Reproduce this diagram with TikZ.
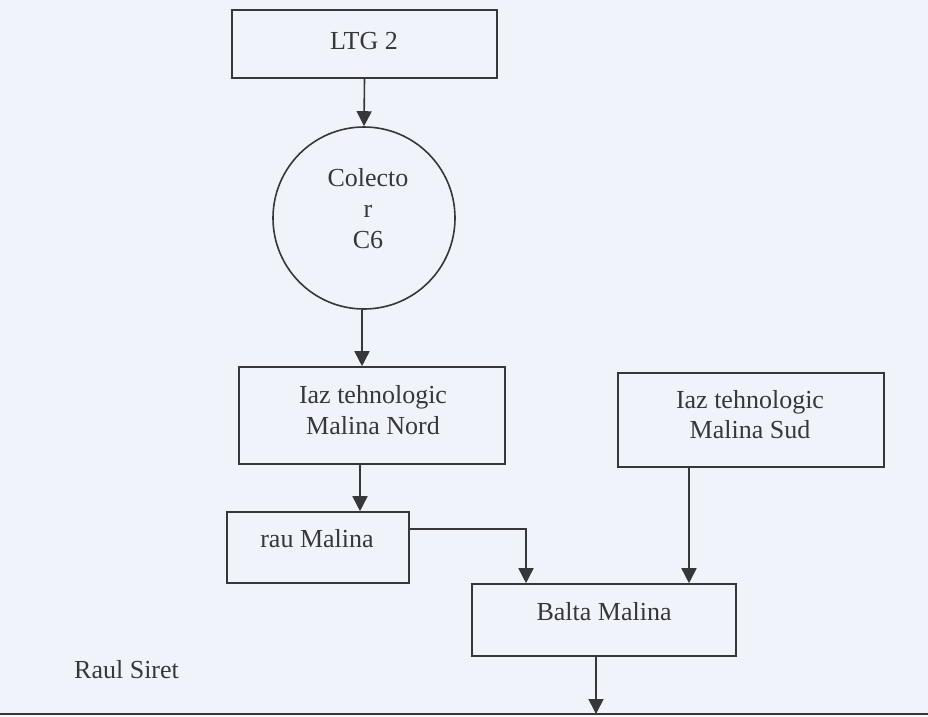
\documentclass[tikz,border=0pt]{standalone}
\usepackage{fontspec}
\setmainfont{Liberation Serif}
\usetikzlibrary{arrows.meta}
\definecolor{bg}{RGB}{240,244,250}
\definecolor{ink}{RGB}{55,55,58}
\begin{document}
\begin{tikzpicture}[x=1pt,y=-1pt,
  box/.style={draw=ink,line width=1.6pt,rectangle,inner sep=0pt},
  ring/.style={draw=ink,line width=1.6pt,circle,inner sep=0pt},
  txt/.style={text=ink,font=\fontsize{26}{30}\selectfont,anchor=base,inner sep=0pt},
  arr/.style={draw=ink,line width=1.6pt,-{Triangle[width=15pt,length=15pt]}},
  ln/.style={draw=ink,line width=1.6pt}]
\fill[bg] (0,0) rectangle (928,716);
\useasboundingbox (0,0) rectangle (928,716);

% boxes
\node[box,minimum width=265pt,minimum height=68pt] (ltg) at (364.5,44) {};
\node[ring,minimum size=182pt] (col) at (364,218) {};
\node[box,minimum width=266pt,minimum height=97pt] (nord) at (372,415.5) {};
\node[box,minimum width=266pt,minimum height=94pt] (sud) at (751,420) {};
\node[box,minimum width=182pt,minimum height=71pt] (rau) at (318,547.5) {};
\node[box,minimum width=264pt,minimum height=72pt] (balta) at (604,620) {};

% texts
\node[txt] (ltgT) at (364,49) {LTG 2};
\node[txt] (colT1) at (368,186) {Colecto};
\node[txt] (colT2) at (368,217) {r};
\node[txt] (colT3) at (368,248) {C6};
\node[txt] (nordT1) at (373,403) {Iaz tehnologic};
\node[txt] (nordT2) at (373,434) {Malina Nord};
\node[txt] (sudT1) at (750,408) {Iaz tehnologic};
\node[txt] (sudT2) at (750,438) {Malina Sud};
\node[txt] (rauT) at (317,547) {rau Malina};
\node[txt] (baltaT) at (604,620) {Balta Malina};
\node[txt,anchor=base west] (siret) at (74,678) {Raul Siret};

% river line
\coordinate (sL) at (0,714);
\coordinate (sR) at (928,714);
\coordinate (sB) at (596,714);
\draw[ln] (sL) -- (sR);

% connectors
\draw[arr] (ltg.south) -- (col.north);
\draw[arr] ([xshift=-2pt]col.south) -- ([xshift=-2pt]col.south |- nord.north);
\draw[arr] ([xshift=-12pt]nord.south) -- ([xshift=-12pt]nord.south |- rau.north);
\draw[arr] ([yshift=18.5pt]rau.east) -| ([xshift=-78pt]balta.north);
\draw[arr] ([xshift=-62pt]sud.south) -- ([xshift=-62pt]sud.south |- balta.north);
\draw[arr] ([xshift=-8pt]balta.south) -- (sB);
\end{tikzpicture}
\end{document}
